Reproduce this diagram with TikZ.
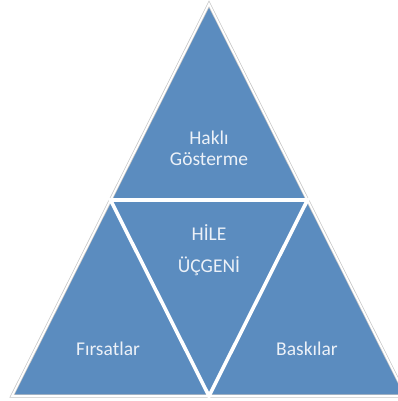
\documentclass[tikz,border=0pt]{standalone}
\usepackage{fontspec}
\setmainfont{Carlito}
\definecolor{triblue}{RGB}{91,140,191}
\definecolor{txtc}{RGB}{236,241,248}
\begin{document}
\begin{tikzpicture}[x=1pt,y=1pt,
  lbl/.style={text=txtc,font=\fontsize{19.5}{21}\selectfont,inner sep=0pt,anchor=base}]
\useasboundingbox (0,0) rectangle (398,401);
\clip (0,0) rectangle (398,401);
\coordinate (A) at (209,397);
\coordinate (BL) at (12,5);
\coordinate (BR) at (406,5);
\coordinate (ML) at (110.5,201);
\coordinate (MR) at (307.5,201);
\coordinate (BM) at (209,5);
\filldraw[fill=triblue,draw=gray!45,line width=3.2,line join=miter] (A) -- (BL) -- (BR) -- cycle;
\draw[white,line width=1.8,line join=miter] (A) -- (BL) -- (BR) -- cycle;
\draw[white,line width=3.6,line join=miter] (ML) -- (MR) -- (BM) -- cycle;
\node[lbl] (h1) at (209,256) {Haklı};
\node[lbl] (h2) at (209,235) {Gösterme};
\node[lbl] (c1) at (209,160) {HİLE};
\node[lbl] (c2) at (209,128) {ÜÇGENİ};
\node[lbl] (f) at (108,45) {Fırsatlar};
\node[lbl] (b) at (307,45) {Baskılar};
\end{tikzpicture}
\end{document}
